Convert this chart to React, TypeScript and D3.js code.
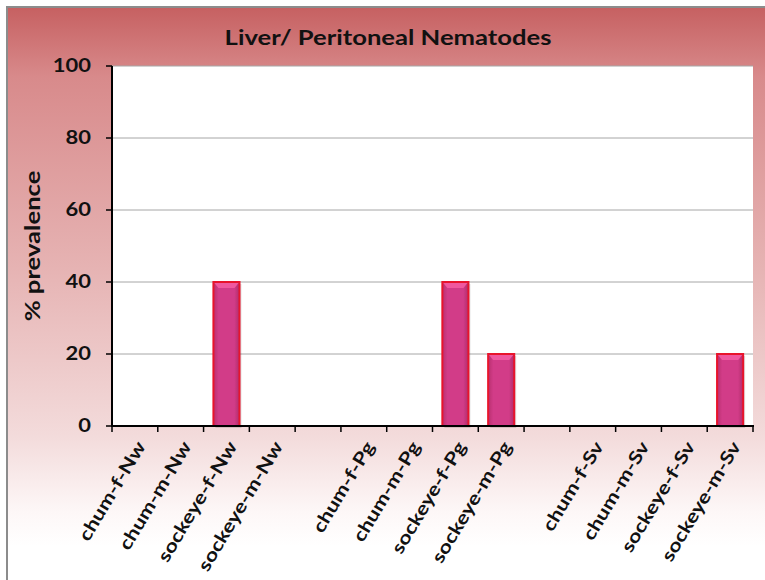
import React from 'react'
import * as d3 from 'd3'

const title = 'Liver/ Peritoneal Nematodes'
const yTitle = '% prevalence'
const categories = [
	'chum-f-Nw', 'chum-m-Nw', 'sockeye-f-Nw', 'sockeye-m-Nw', '',
	'chum-f-Pg', 'chum-m-Pg', 'sockeye-f-Pg', 'sockeye-m-Pg', '',
	'chum-f-Sv', 'chum-m-Sv', 'sockeye-f-Sv', 'sockeye-m-Sv',
]
const prevalence = [0, 0, 40, 0, null, 0, 0, 40, 20, null, 0, 0, 0, 20]
const yTicks = [0, 20, 40, 60, 80, 100]

const W = 765
const H = 580
const plot = { left: 112, right: 753, top: 66, bottom: 426 }
const font = 'Lato, "Open Sans", sans-serif'
const stretch = 1.22

// text drawn wider than the font, like the stretched original
function T({ x, y, rot = 0, size, anchor = 'start', dy = '0', children }: any) {
	return (
		<text
			transform={`translate(${x} ${y}) rotate(${rot}) scale(${stretch} 1)`}
			textAnchor={anchor}
			dy={dy}
			fontFamily={font}
			fontWeight={700}
			fontSize={size}
			fill="#111"
		>
			{children}
		</text>
	)
}

export default function App() {
	const x = d3
		.scaleBand<number>()
		.domain(categories.map((_, i) => i))
		.range([plot.left, plot.right])
		.padding(0)
	const y = d3.scaleLinear().domain([0, 100]).range([plot.bottom, plot.top])
	const barW = x.step() * 0.57
	const boundaries = d3.range(categories.length + 1).map((i) => plot.left + i * x.step())

	return (
		<div style={{ position: 'fixed', left: 0, top: 0 }}>
			<svg width={W} height={H} style={{ display: 'block', background: '#fff' }}>
				<defs>
					<linearGradient id="bg" x1="0" y1="0" x2="0" y2="1">
						<stop offset="0" stopColor="#c66061" />
						<stop offset="0.12" stopColor="#d88a8b" />
						<stop offset="0.45" stopColor="#e6b3b3" />
						<stop offset="0.74" stopColor="#f3dbdb" />
						<stop offset="0.87" stopColor="#fdf7f7" />
						<stop offset="0.93" stopColor="#ffffff" />
					</linearGradient>
					<linearGradient id="bar" x1="0" y1="0" x2="1" y2="0">
						<stop offset="0" stopColor="#b8306f" />
						<stop offset="0.2" stopColor="#d23c88" />
						<stop offset="0.8" stopColor="#d23c88" />
						<stop offset="1" stopColor="#b02d6a" />
					</linearGradient>
				</defs>
				<rect x={7} y={7} width={W} height={H} fill="url(#bg)" stroke="#8c8c8c" strokeWidth={2} />
				<T x={388} y={45} size={21} anchor="middle">{title}</T>
				<rect x={plot.left} y={plot.top} width={plot.right - plot.left} height={plot.bottom - plot.top} fill="#fff" />
				{yTicks.filter((t) => t > 0).map((t) => (
					<line key={t} x1={plot.left} x2={plot.right} y1={y(t)} y2={y(t)} stroke="#a6a6a6" strokeWidth={1} />
				))}
				{prevalence.map((v, i) => {
					if (!v) return null
					const x0 = x(i)! + (x.step() - barW) / 2
					const x1 = x0 + barW
					return (
						<g key={i}>
							<rect x={x0 + 2} y={y(v) + 2} width={barW} height={y(0) - y(v)} fill="#000" opacity={0.12} />
							<rect
								x={x0}
								y={y(v)}
								width={barW}
								height={y(0) - y(v)}
								fill="url(#bar)"
								stroke="#e8142c"
								strokeWidth={2}
							/>
							<polygon
								points={`${x0 + 1},${y(v) + 1} ${x1 - 1},${y(v) + 1} ${x1 - 5},${y(v) + 6} ${x0 + 5},${y(v) + 6}`}
								fill="#f0589f"
							/>
						</g>
					)
				})}
				<line x1={plot.left} x2={plot.left} y1={plot.top} y2={plot.bottom} stroke="#000" strokeWidth={2} />
				<line x1={plot.left - 1} x2={plot.right + 1} y1={plot.bottom} y2={plot.bottom} stroke="#000" strokeWidth={2} />
				{yTicks.map((t) => (
					<g key={t}>
						<line x1={plot.left - 6} x2={plot.left} y1={y(t)} y2={y(t)} stroke="#000" strokeWidth={1.5} />
						<T x={91} y={y(t)} dy="0.36em" anchor="end" size={18}>{t}</T>
					</g>
				))}
				{boundaries.map((b, i) => (
					<line key={i} x1={b} x2={b} y1={plot.bottom} y2={plot.bottom + 6} stroke="#000" strokeWidth={1.5} />
				))}
				{categories.map((c, i) => (
					<T key={i} x={x(i)! + x.step() / 2 + 6} y={plot.bottom + 17} rot={-59} anchor="end" dy="0.35em" size={18}>
						{c}
					</T>
				))}
				<T x={40} y={(plot.top + plot.bottom) / 2} rot={-90} anchor="middle" size={21}>
					{yTitle}
				</T>
			</svg>
		</div>
	)
}
